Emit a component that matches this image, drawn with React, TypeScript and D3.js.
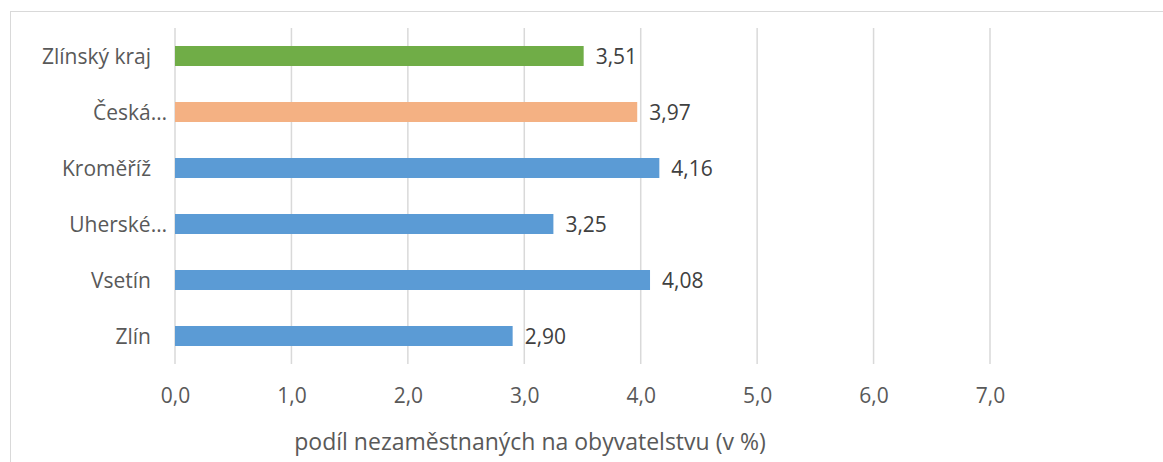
import React, { useEffect, useRef } from 'react';
import * as d3 from 'd3';

const categories = ['Zlínský kraj', 'Česká…', 'Kroměříž', 'Uherské…', 'Vsetín', 'Zlín'];
const values = [3.51, 3.97, 4.16, 3.25, 4.08, 2.9];
const barColors = ['#70ad47', '#f4b183', '#5b9bd5', '#5b9bd5', '#5b9bd5', '#5b9bd5'];
const xTicks = [0, 1, 2, 3, 4, 5, 6, 7];
const axisTitle = 'podíl nezaměstnaných na obyvatelstvu (v %)';

const W = 1163;
const H = 462;
const FONT = '"Open Sans", sans-serif';
const TEXT = '#595959';

const czech = d3.formatLocale({ decimal: ',', thousands: ' ', grouping: [3], currency: ['', ' Kč'] });
const fmt1 = czech.format('.1f');
const fmt2 = czech.format('.2f');

const drawChart = (node: SVGSVGElement) => {
  const svg = d3.select(node);
  svg.selectAll('*').remove();

  const plot = { left: 175, right: 990, top: 28, bottom: 364 };

  // chart area border (right and bottom edges are cut off in the original)
  svg.append('rect')
    .attr('x', 10.5)
    .attr('y', 11.5)
    .attr('width', W + 20)
    .attr('height', H + 20)
    .attr('fill', 'white')
    .attr('stroke', '#d9d9d9')
    .attr('stroke-width', 1);

  const x = d3.scaleLinear().domain([0, 7]).range([plot.left, plot.right]);
  const y = d3.scaleBand()
    .domain(categories)
    .range([plot.top, plot.bottom])
    .paddingInner(0.643)
    .paddingOuter(0.3215);

  // vertical gridlines
  svg.append('g')
    .selectAll('line')
    .data(xTicks)
    .enter()
    .append('line')
    .attr('x1', d => x(d))
    .attr('x2', d => x(d))
    .attr('y1', plot.top)
    .attr('y2', plot.bottom)
    .attr('stroke', '#d9d9d9')
    .attr('stroke-width', 1.5);

  // tick labels via axis
  const xAxis = d3.axisBottom(x)
    .tickValues(xTicks)
    .tickFormat(d => fmt1(d as number))
    .tickSize(0)
    .tickPadding(0);
  const gx = svg.append('g')
    .attr('transform', `translate(0,${plot.bottom + 24})`)
    .call(xAxis);
  gx.select('.domain').remove();
  gx.selectAll('text')
    .attr('font-family', FONT)
    .attr('font-size', 21)
    .attr('fill', TEXT);

  // bars
  svg.append('g')
    .selectAll('rect')
    .data(values)
    .enter()
    .append('rect')
    .attr('x', x(0))
    .attr('y', (d, i) => y(categories[i]) as number)
    .attr('width', d => x(d) - x(0))
    .attr('height', y.bandwidth())
    .attr('fill', (d, i) => barColors[i]);

  // value labels
  svg.append('g')
    .selectAll('text')
    .data(values)
    .enter()
    .append('text')
    .attr('x', d => x(d) + 12)
    .attr('y', (d, i) => (y(categories[i]) as number) + y.bandwidth() / 2 + 8)
    .attr('font-family', FONT)
    .attr('font-size', 21)
    .attr('fill', '#404040')
    .text(d => fmt2(d));

  // category labels (truncated ones sit a bit further right, as in Excel)
  svg.append('g')
    .selectAll('text')
    .data(categories)
    .enter()
    .append('text')
    .attr('x', d => (d.endsWith('…') ? 167 : 151))
    .attr('y', d => (y(d) as number) + y.bandwidth() / 2 + 8)
    .attr('text-anchor', 'end')
    .attr('font-family', FONT)
    .attr('font-size', 21)
    .attr('fill', TEXT)
    .text(d => d);

  // axis title
  svg.append('text')
    .attr('x', 530)
    .attr('y', 450)
    .attr('text-anchor', 'middle')
    .attr('font-family', FONT)
    .attr('font-size', 23)
    .attr('fill', TEXT)
    .text(axisTitle);
};

const App = () => {
  const ref = useRef<SVGSVGElement>(null);

  useEffect(() => {
    if (ref.current) drawChart(ref.current);
  }, []);

  return (
    <div style={{ position: 'absolute', left: 0, top: 0 }}>
      <svg ref={ref} width={W} height={H} style={{ display: 'block', background: 'white' }} />
    </div>
  );
};

export default App;
